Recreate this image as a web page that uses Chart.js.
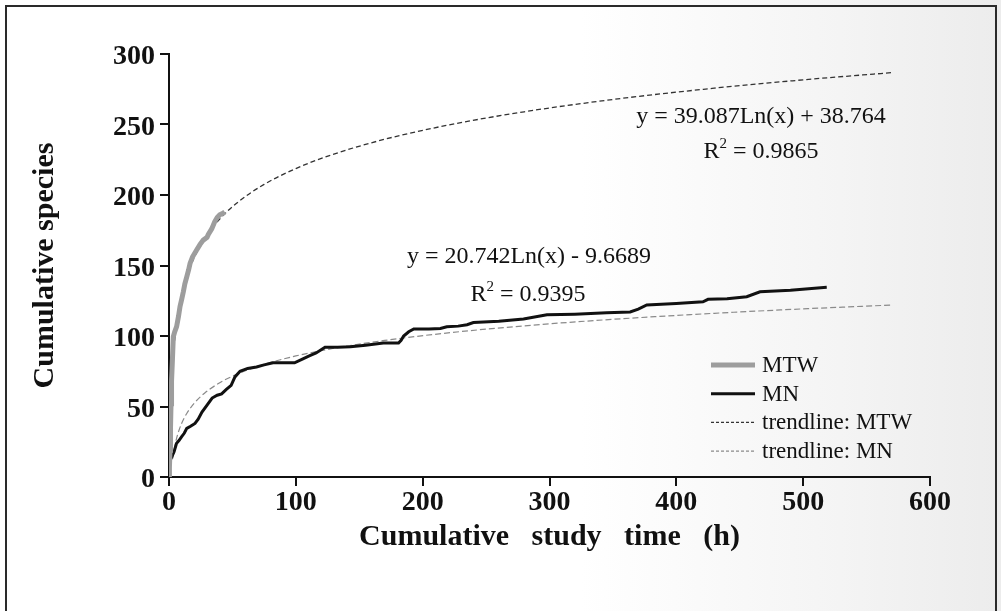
<!DOCTYPE html>
<html>
<head>
<meta charset="utf-8">
<script src="https://cdn.jsdelivr.net/npm/chart.js@4.4.1/dist/chart.umd.min.js"></script>
<style>
  html, body { margin: 0; padding: 0; }
  body {
    width: 1001px; height: 611px; overflow: hidden; position: relative;
    background: linear-gradient(to right, #ffffff 0%, #ffffff 58%, #f4f4f4 84%, #ececec 100%);
  }
  #frame {
    position: absolute; left: 5px; top: 5px; width: 988px; height: 620px;
    border: 2px solid #2a2a2a; border-bottom: none;
  }
  #wrap { position: absolute; left: 0; top: 0; }
</style>
</head>
<body>
<div id="frame"></div>
<div id="wrap"><canvas id="speciesChart" width="1001" height="611"></canvas></div>
<script>
// cumulative species vs cumulative study time, two sites
const mtwHours = [0, 0.3, 0.8, 1.2, 1.6, 2, 2.6, 3.4, 4.5, 6, 7.5, 8.7, 10, 11.3, 12.5, 14, 15.5, 16.6, 18.5, 21.8,
  24.5, 27, 30, 31, 33.7, 36, 38, 40, 42.5, 44];
const mtwSpecies = [0, 6, 19, 35, 52, 68, 81, 99.5, 103, 106.6, 114, 121, 126, 131.4, 137, 142, 147, 151.5, 156, 161,
  165, 168, 170, 172, 176, 181, 184, 186, 187, 188];

const mnHours = [0, 0.5, 1, 2, 4, 6, 8, 10, 12, 14, 17, 20.5, 23, 26, 30, 34, 38, 41.5, 45, 49,
  52, 56, 62, 69, 75, 82, 90, 99, 106, 111, 116, 123, 133, 143, 155, 169, 181, 183, 185, 189,
  193, 205, 214, 219, 228, 235, 240, 260, 279.5, 298, 320, 345, 363.6, 370, 376.7, 400, 421, 425, 440, 455.5,
  466, 490, 518.6];
const mnSpecies = [0, 8, 12, 14, 18, 24, 26, 28.6, 31, 34.5, 36, 38, 41, 46, 51, 56, 58, 59, 62, 65,
  71, 75, 77, 78, 79.5, 81, 81, 81, 84, 86, 88, 92, 92, 92.4, 93.5, 95, 95, 97, 100, 103,
  105, 105, 105.4, 106.6, 107, 108, 109.5, 110.5, 112, 115, 115.5, 116.5, 117, 119, 122, 123, 124.3, 126, 126.5, 127.9,
  131.4, 132.5, 134.5];

// logarithmic trendlines y = a*Ln(x) + b, as printed on the chart
const mtwTrend = [39.087, 38.764];
const mnTrend = [20.742, -9.6689];
const mtwTrendHours = [0.5, 1, 1.5, 2, 3, 4, 5, 7, 10, 14, 20, 28, 40, 55, 75, 100, 130, 170, 220, 280, 350, 430, 500, 570];
const mnTrendHours = [3, 4, 5, 7, 10, 14, 20, 28, 40, 55, 75, 100, 130, 170, 220, 280, 350, 430, 500, 570];

const seriesLabels = ["MTW", "MN", "trendline: MTW", "trendline: MN"];
const equationText = ["y = 39.087Ln(x) + 38.764", "R\u00B2 = 0.9865", "y = 20.742Ln(x) - 9.6689", "R\u00B2 = 0.9395"];

function pairs(xs, ys) {
  return xs.map((x, i) => ({ x: x, y: ys[i] }));
}
function logFit(xs, coef) {
  return xs.map(x => ({ x: x, y: coef[0] * Math.log(x) + coef[1] }));
}

// legend box drawn inside the plot, lower right
const legendBox = {
  id: "legendBox",
  afterDatasetsDraw(chart) {
    const ctx = chart.ctx;
    ctx.save();
    ctx.font = "23px 'Liberation Serif'";
    ctx.textBaseline = "middle";
    ctx.fillStyle = "#111";
    chart.data.datasets.forEach((ds, i) => {
      const y = 365 + i * 28.7;
      ctx.beginPath();
      ctx.setLineDash(ds.legendDash || []);
      ctx.lineWidth = ds.borderWidth;
      ctx.strokeStyle = ds.borderColor;
      ctx.moveTo(711, y);
      ctx.lineTo(755, y);
      ctx.stroke();
      ctx.setLineDash([]);
      ctx.fillText(ds.label, 762, y + 1);
    });
    ctx.restore();
  }
};

// regression equations next to the curves
const equations = {
  id: "equations",
  afterDatasetsDraw(chart) {
    const ctx = chart.ctx;
    const spots = [[761, 117], [761, 152], [529, 257], [528, 295]];
    ctx.save();
    ctx.font = "24px 'Liberation Serif'";
    ctx.textAlign = "center";
    ctx.textBaseline = "middle";
    ctx.fillStyle = "#111";
    equationText.forEach((t, i) => {
      if (t.startsWith("R\u00B2")) {
        // superscript 2 drawn smaller
        const rest = t.slice(2);
        const wR = ctx.measureText("R").width;
        ctx.font = "15px 'Liberation Serif'";
        const w2 = ctx.measureText("2").width;
        ctx.font = "24px 'Liberation Serif'";
        const wRest = ctx.measureText(rest).width;
        const x0 = spots[i][0] - (wR + w2 + wRest) / 2;
        ctx.textAlign = "left";
        ctx.fillText("R", x0, spots[i][1]);
        ctx.font = "15px 'Liberation Serif'";
        ctx.fillText("2", x0 + wR, spots[i][1] - 8);
        ctx.font = "24px 'Liberation Serif'";
        ctx.fillText(rest, x0 + wR + w2, spots[i][1]);
        ctx.textAlign = "center";
      } else {
        ctx.fillText(t, spots[i][0], spots[i][1]);
      }
    });
    ctx.restore();
  }
};

const tickFont = { family: "'Liberation Serif'", size: 28, weight: "bold" };
const titleFont = { family: "'Liberation Serif'", size: 30, weight: "bold" };

new Chart(document.getElementById("speciesChart").getContext("2d"), {
  type: "scatter",
  data: {
    datasets: [
      {
        label: seriesLabels[0],
        data: pairs(mtwHours, mtwSpecies),
        showLine: true,
        borderColor: "#9d9d9d",
        borderWidth: 5,
        pointRadius: 0,
        tension: 0
      },
      {
        label: seriesLabels[1],
        data: pairs(mnHours, mnSpecies),
        showLine: true,
        borderColor: "#111",
        borderWidth: 3,
        pointRadius: 0,
        tension: 0
      },
      {
        label: seriesLabels[2],
        data: logFit(mtwTrendHours, mtwTrend),
        showLine: true,
        borderColor: "#333",
        borderWidth: 1.3,
        borderDash: [5, 3],
        legendDash: [3, 2],
        pointRadius: 0,
        cubicInterpolationMode: "monotone"
      },
      {
        label: seriesLabels[3],
        data: logFit(mnTrendHours, mnTrend),
        showLine: true,
        borderColor: "#8a8a8a",
        borderWidth: 1.2,
        borderDash: [6, 3],
        legendDash: [3, 2],
        pointRadius: 0,
        cubicInterpolationMode: "monotone"
      }
    ]
  },
  options: {
    responsive: false,
    animation: false,
    layout: { padding: { left: 0, top: 54, right: 71, bottom: 0 } },
    plugins: {
      legend: { display: false },
      tooltip: { enabled: false }
    },
    scales: {
      x: {
        type: "linear",
        min: 0,
        max: 600,
        ticks: { stepSize: 100, color: "#111", font: tickFont, padding: 0, maxRotation: 0 },
        grid: { drawOnChartArea: false, drawTicks: true, tickLength: 9, color: "#111", lineWidth: 2 },
        border: { display: true, color: "#111", width: 2 },
        title: {
          display: true,
          text: "Cumulative   study   time   (h)",
          color: "#111",
          font: titleFont,
          padding: { top: 0, bottom: 56 }
        },
        afterFit(scale) { scale.height = 611 - 477; }
      },
      y: {
        min: 0,
        max: 300,
        ticks: { stepSize: 50, color: "#111", font: tickFont, padding: 5, labelOffset: 3 },
        grid: { drawOnChartArea: false, drawTicks: true, tickLength: 9, color: "#111", lineWidth: 2 },
        border: { display: true, color: "#111", width: 2 },
        title: {
          display: true,
          text: "Cumulative species",
          color: "#111",
          font: titleFont,
          padding: { top: 27, bottom: 27 }
        },
        afterFit(scale) { scale.width = 169; }
      }
    }
  },
  plugins: [legendBox, equations]
});
</script>
</body>
</html>
